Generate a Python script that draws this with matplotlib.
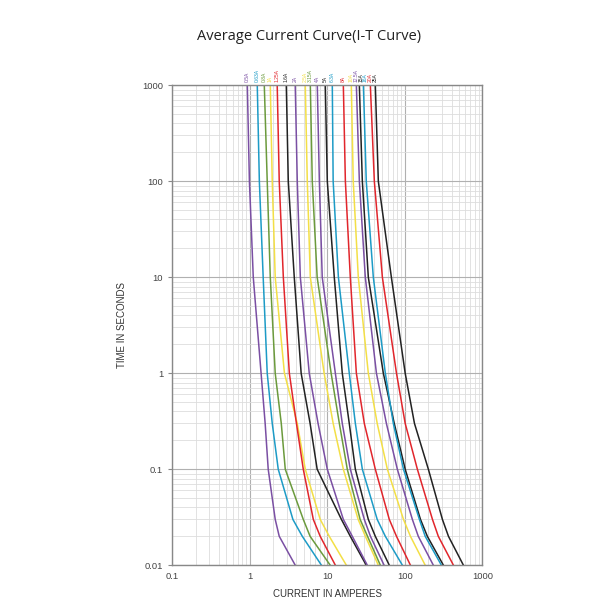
import numpy as np
import matplotlib
matplotlib.use("Agg")
from matplotlib import pyplot as plt
from matplotlib.ticker import FixedLocator, NullFormatter

plt.rcParams["font.family"] = ["Liberation Sans", "DejaVu Sans"]

# time levels (seconds) at which each curve was read
times = [1000, 100, 10, 1, 0.3, 0.1, 0.03, 0.02, 0.01]

labels = ["0.5A", "0.63A", "0.8A", "1A", "1.25A", "1.6A", "2A", "2.5A", "3.15A",
          "4A", "5A", "6.3A", "8A", "10A", "12.5A", "15A", "16A", "20A", "25A"]

# current (A) for each rating at the time levels above
c_0_5 = [0.93, 0.99, 1.11, 1.40, 1.58, 1.73, 2.13, 2.40, 3.86]
c_0_63 = [1.25, 1.33, 1.49, 1.68, 1.95, 2.33, 3.6, 4.76, 8.4]
c_0_8 = [1.54, 1.68, 1.84, 2.13, 2.55, 2.87, 4.9, 6.0, 10.9]
c_1 = [1.84, 1.95, 2.13, 2.8, 4.1, 5.2, 8.1, 10.6, 17.6]
c_1_25 = [2.26, 2.40, 2.71, 3.24, 4.0, 4.9, 6.6, 8.1, 12.7]
c_1_6 = [2.96, 3.14, 3.75, 4.6, 6.0, 7.4, 15.2, 19.8, 31.8]
c_2 = [3.86, 4.1, 4.49, 5.85, 7.6, 10.0, 16.1, 21.0, 32.8]
c_2_5 = [5.2, 5.52, 6.04, 9.1, 11.9, 16.1, 25.0, 31.0, 45.5]
c_3_15 = [6.04, 6.4, 7.4, 11.2, 14.3, 18.1, 26.5, 33.0, 48.3]
c_4 = [7.43, 7.9, 8.6, 12.7, 15.6, 19.8, 30.0, 36.0, 54.0]
c_5 = [9.42, 10.0, 12.3, 15.6, 19.2, 23.0, 33.8, 41.6, 63.0]
c_6_3 = [11.6, 11.9, 13.9, 19.2, 23.0, 28.3, 44.0, 56.0, 93.0]
c_8 = [16.1, 17.1, 19.8, 23.7, 30.0, 41.6, 63.0, 78.0, 118.0]
c_10 = [20.4, 21.6, 25.1, 33.8, 44.0, 59.5, 96.0, 118.0, 183.0]
c_12_5 = [23.7, 25.9, 30.9, 43.0, 57.8, 80.0, 125.0, 149.0, 233.0]
c_15 = [25.9, 28.3, 33.8, 52.8, 73.0, 101.0, 159.0, 195.0, 314.0]
c_16 = [29.2, 31.8, 39.2, 56.0, 71.0, 96.0, 154.0, 183.0, 296.0]
c_20 = [35.9, 40.4, 51.3, 78.0, 101.0, 145.0, 227.0, 270.0, 423.0]
c_25 = [41.6, 45.5, 67.0, 101.0, 133.0, 201.0, 305.0, 365.0, 569.0]

curves = [c_0_5, c_0_63, c_0_8, c_1, c_1_25, c_1_6, c_2, c_2_5, c_3_15,
          c_4, c_5, c_6_3, c_8, c_10, c_12_5, c_15, c_16, c_20, c_25]

purple, teal, green, yellow, red, black = "#7a4fa3", "#1d9bc6", "#6b9a3c", "#f3df46", "#e1262c", "#222222"
colors = [purple, teal, green, yellow, red, black, purple, yellow, green,
          purple, black, teal, red, yellow, purple, black, teal, red, black]

fig = plt.figure(figsize=(6, 6), dpi=100)
ax = fig.add_axes([0.287, 0.058, 0.517, 0.8])

for cur, col in zip(curves, colors):
    ax.plot(cur, times, color=col, lw=1.1)

ax.set_xscale("log")
ax.set_yscale("log")
ax.set_xlim(0.1, 1000)
ax.set_ylim(0.01, 1000)

ax.set_xticks([0.1, 1, 10, 100, 1000])
ax.set_xticklabels(["0.1", "1", "10", "100", "1000"])
ax.set_yticks([0.01, 0.1, 1, 10, 100, 1000])
ax.set_yticklabels(["0.01", "0.1", "1", "10", "100", "1000"])
ax.xaxis.set_minor_locator(FixedLocator([m * 10.0 ** e for e in range(-1, 3) for m in range(2, 10)]))
ax.yaxis.set_minor_locator(FixedLocator([m * 10.0 ** e for e in range(-2, 3) for m in range(2, 10)]))
ax.xaxis.set_minor_formatter(NullFormatter())
ax.yaxis.set_minor_formatter(NullFormatter())

ax.grid(which="major", color="#b0b0b0", lw=0.8)
ax.grid(which="minor", color="#dddddd", lw=0.6)
ax.set_axisbelow(True)
for s in ax.spines.values():
    s.set_color("#888888")
    s.set_linewidth(1.0)

ax.tick_params(which="major", labelsize=6.8, colors="#444444", length=3, color="#888888")
ax.tick_params(which="minor", length=0)
ax.tick_params(axis="x", length=0, pad=5)

ax.set_xlabel("CURRENT IN AMPERES", fontsize=7, color="#333333", labelpad=6)
ax.set_ylabel("TIME IN SECONDS", fontsize=7, color="#333333", labelpad=11)

# rating labels above the curves, nudged apart so they don't collide
px = [ax.transData.transform((c[0], 1000))[0] for c in curves]
gap = 4.4
for i in range(1, len(px)):
    if px[i] - px[i - 1] < gap:
        px[i] = px[i - 1] + gap
inv = ax.transData.inverted()
for lab, p, col in zip(labels, px, colors):
    xd = inv.transform((p, 0))[0]
    ax.text(xd, 1080, lab, rotation=90, fontsize=3.6, color=col,
            ha="center", va="bottom", clip_on=False)

fig.text(0.515, 0.94, "Average Current Curve(I-T Curve)", fontsize=10.5,
         ha="center", va="center", family="Open Sans", color="#222222")

fig.savefig("out.png", dpi=100, facecolor="white")
